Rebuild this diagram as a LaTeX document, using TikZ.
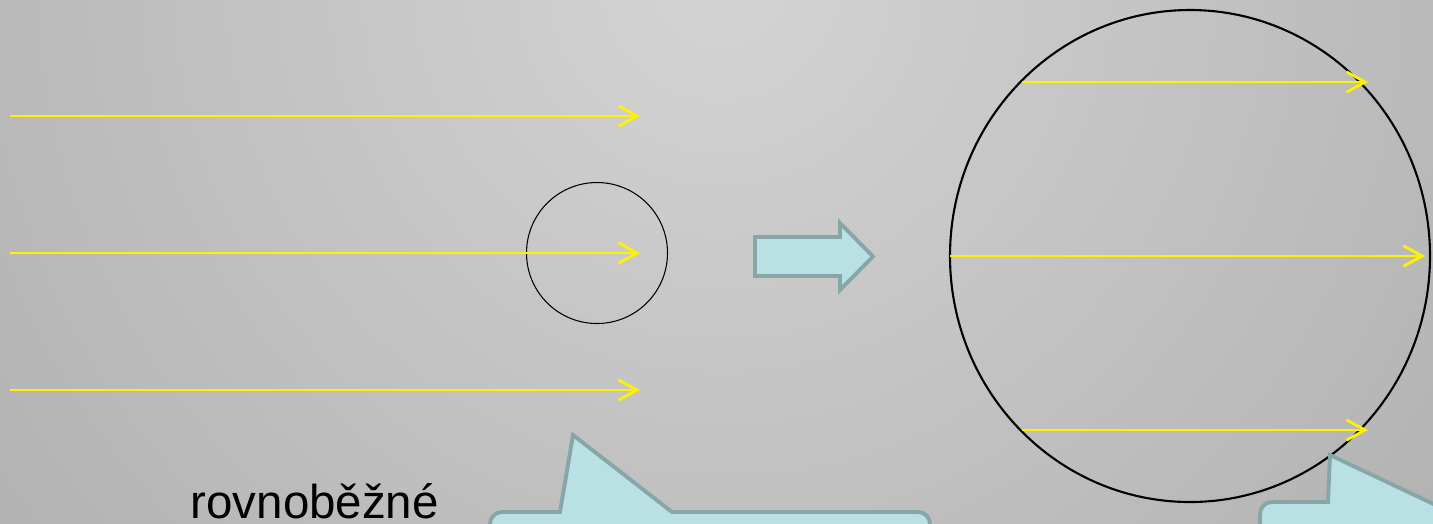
\documentclass[tikz,border=0pt]{standalone}
\usepackage{fontspec}
\setmainfont{Liberation Sans}
\usetikzlibrary{arrows.meta}
\definecolor{bglight}{HTML}{D4D4D4}
\definecolor{bgdark}{HTML}{9C9C9C}
\definecolor{lightcyan}{HTML}{B9E0E3}
\definecolor{cyanedge}{HTML}{87A6A8}

\begin{document}
\begin{tikzpicture}[x=0.01cm, y=-0.01cm,
    ray/.style={yellow, line width=0.8pt, -{Straight Barb[length=5.3pt, width=5.8pt]}},
    bubble/.style={draw=cyanedge, fill=lightcyan, line width=1.1pt}]
  \useasboundingbox (0,0) rectangle (1433,523);
  \clip (0,0) rectangle (1433,523);

  % Background
  \fill[bgdark] (0,0) rectangle (1433,523);
  \shade[inner color=bglight, outer color=bgdark] (720,-20) circle (1500);

  % Left: parallel rays and the small circle
  \draw[line width=0.3pt] (597,253) circle (70.5);
  \foreach \y [count=\i] in {116,253,390} {
    \coordinate (src\i) at (10,\y);
    \coordinate (dst\i) at (640,\y);
    \draw[ray] (src\i) -- (dst\i);
  }

  % Middle: block arrow
  \draw[bubble, line join=miter] (755,237) -- (840,237) -- (840,223) -- (873,256.5)
    -- (840,290) -- (840,276) -- (755,276) -- cycle;

  % Right: the large circle and its rays
  \draw[line width=0.6pt] (1190,256) ellipse [x radius=240, y radius=246];
  \coordinate (in1) at (1022,82);   \coordinate (out1) at (1368,82);
  \coordinate (in2) at (950,256);   \coordinate (out2) at (1425,256);
  \coordinate (in3) at (1022,430);  \coordinate (out3) at (1368,430);
  \foreach \i in {1,2,3}
    \draw[ray] (in\i) -- (out\i);

  % Bottom: speech bubbles (cut off by the frame)
  \draw[bubble] (490,560) [rounded corners=3.4pt] -- (490,512) [sharp corners]
    -- (560,512) -- (573,435) -- (672,512) [rounded corners=3.4pt] -- (930,512)
    [sharp corners] -- (930,560);
  \draw[bubble] (1260,560) [rounded corners=3.4pt] -- (1260,502) [sharp corners]
    -- (1328,502) -- (1330,455) -- (1520,545) -- (1520,560);

  \node[anchor=base west, inner sep=0pt, font=\fontsize{13.5pt}{16pt}\selectfont]
    (caption) at (190,518) {rovnoběžné};
\end{tikzpicture}
\end{document}
